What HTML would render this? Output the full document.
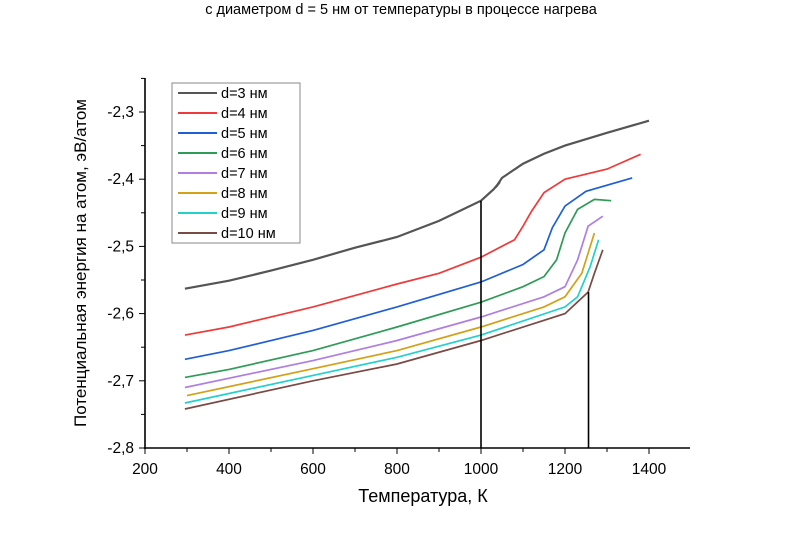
<!DOCTYPE html>
<html><head><meta charset="utf-8"><style>
body{margin:0;background:#fff;}
svg text{font-family:"Liberation Sans",sans-serif;}
</style></head><body>
<svg id="s" width="802" height="534" xmlns="http://www.w3.org/2000/svg">
<text x="401" y="14" text-anchor="middle" font-size="14.5" fill="#000" style="font-family:'Liberation Sans',sans-serif">с диаметром d = 5 нм от температуры в процессе нагрева</text>
<g id="plot"></g>
</svg>
<script>
const X=T=>145+(T-200)*0.42, Y=E=>112+(-2.3-E)*672;
const g=document.getElementById('plot');let h='';
const series=[
['#555',[[295,-2.563],[400,-2.551],[500,-2.536],[600,-2.52],[700,-2.502],[800,-2.486],[900,-2.462],[1000,-2.432],[1030,-2.415],[1045,-2.404],[1035,-2.412],[1050,-2.398],[1100,-2.377],[1150,-2.362],[1200,-2.35],[1300,-2.331],[1400,-2.313]]],
['#f03a3a',[[295,-2.632],[400,-2.62],[600,-2.59],[800,-2.556],[900,-2.54],[1000,-2.516],[1080,-2.49],[1100,-2.47],[1120,-2.448],[1150,-2.42],[1200,-2.40],[1300,-2.385],[1380,-2.363]]],
['#1f5fd6',[[295,-2.668],[400,-2.655],[600,-2.625],[800,-2.59],[1000,-2.553],[1100,-2.527],[1150,-2.505],[1170,-2.472],[1200,-2.44],[1250,-2.418],[1360,-2.398]]],
['#2e9b57',[[295,-2.695],[400,-2.683],[600,-2.655],[800,-2.62],[1000,-2.583],[1100,-2.56],[1150,-2.545],[1180,-2.52],[1200,-2.48],[1230,-2.445],[1270,-2.43],[1310,-2.432]]],
['#b07ee0',[[295,-2.71],[600,-2.67],[800,-2.64],[1000,-2.605],[1150,-2.575],[1200,-2.56],[1230,-2.52],[1255,-2.47],[1290,-2.455]]],
['#d4a017',[[300,-2.722],[600,-2.682],[800,-2.655],[1000,-2.62],[1150,-2.59],[1200,-2.575],[1240,-2.54],[1270,-2.48]]],
['#22d0cc',[[295,-2.733],[600,-2.692],[800,-2.665],[1000,-2.632],[1200,-2.59],[1230,-2.575],[1260,-2.53],[1280,-2.49]]],
['#7a4a44',[[295,-2.742],[600,-2.70],[800,-2.675],[1000,-2.64],[1200,-2.60],[1255,-2.568],[1270,-2.54],[1290,-2.505]]]];
series.forEach(([c,p],i)=>{h+=`<polyline fill="none" stroke="${c}" stroke-width="${i==0?2.2:1.7}" points="${p.map(q=>X(q[0]).toFixed(1)+','+Y(q[1]).toFixed(1)).join(' ')}"/>`;});
h+=`<line x1="${X(1000)}" y1="${Y(-2.432)}" x2="${X(1000)}" y2="448" stroke="#000" stroke-width="1.6"/>`;
h+=`<line x1="${X(1256)}" y1="${Y(-2.568)}" x2="${X(1256)}" y2="448" stroke="#000" stroke-width="1.6"/>`;
h+=`<line x1="145" y1="78" x2="145" y2="449" stroke="#000" stroke-width="1.6"/><line x1="144" y1="448" x2="690" y2="448" stroke="#000" stroke-width="1.6"/>`;
for(let T=200;T<=1450;T+=100){const x=X(T);h+=`<line x1="${x}" y1="448" x2="${x}" y2="${T%200?452:454}" stroke="#000"/>`;if(T%200==0)h+=`<text x="${x}" y="474" font-size="15.5" text-anchor="middle">${T}</text>`;}
for(let k=0;k<=11;k++){const E=-2.8+k*0.05,y=Y(E);if(y<78)break;h+=`<line x1="${k%2?141:139}" y1="${y}" x2="145" y2="${y}" stroke="#000"/>`;if(k%2==0)h+=`<text x="134" y="${y+5}" font-size="15.5" text-anchor="end">${E.toFixed(1).replace('.',',')}</text>`;}
h+=`<text x="423" y="502" font-size="18" text-anchor="middle">Температура, К</text>`;
h+=`<text transform="translate(86,263) rotate(-90)" font-size="17" text-anchor="middle">Потенциальная энергия на атом, эВ/атом</text>`;
h+=`<rect x="172" y="83" width="128" height="160" fill="#fff" stroke="#888"/>`;
const names=[3,4,5,6,7,8,9,10];
series.forEach(([c],i)=>{const y=93+i*20;h+=`<line x1="178" y1="${y}" x2="217" y2="${y}" stroke="${c}" stroke-width="2"/><text x="221" y="${y+5}" font-size="14.5">d=${names[i]} нм</text>`;});
g.innerHTML=h;
</script>
</body></html>
